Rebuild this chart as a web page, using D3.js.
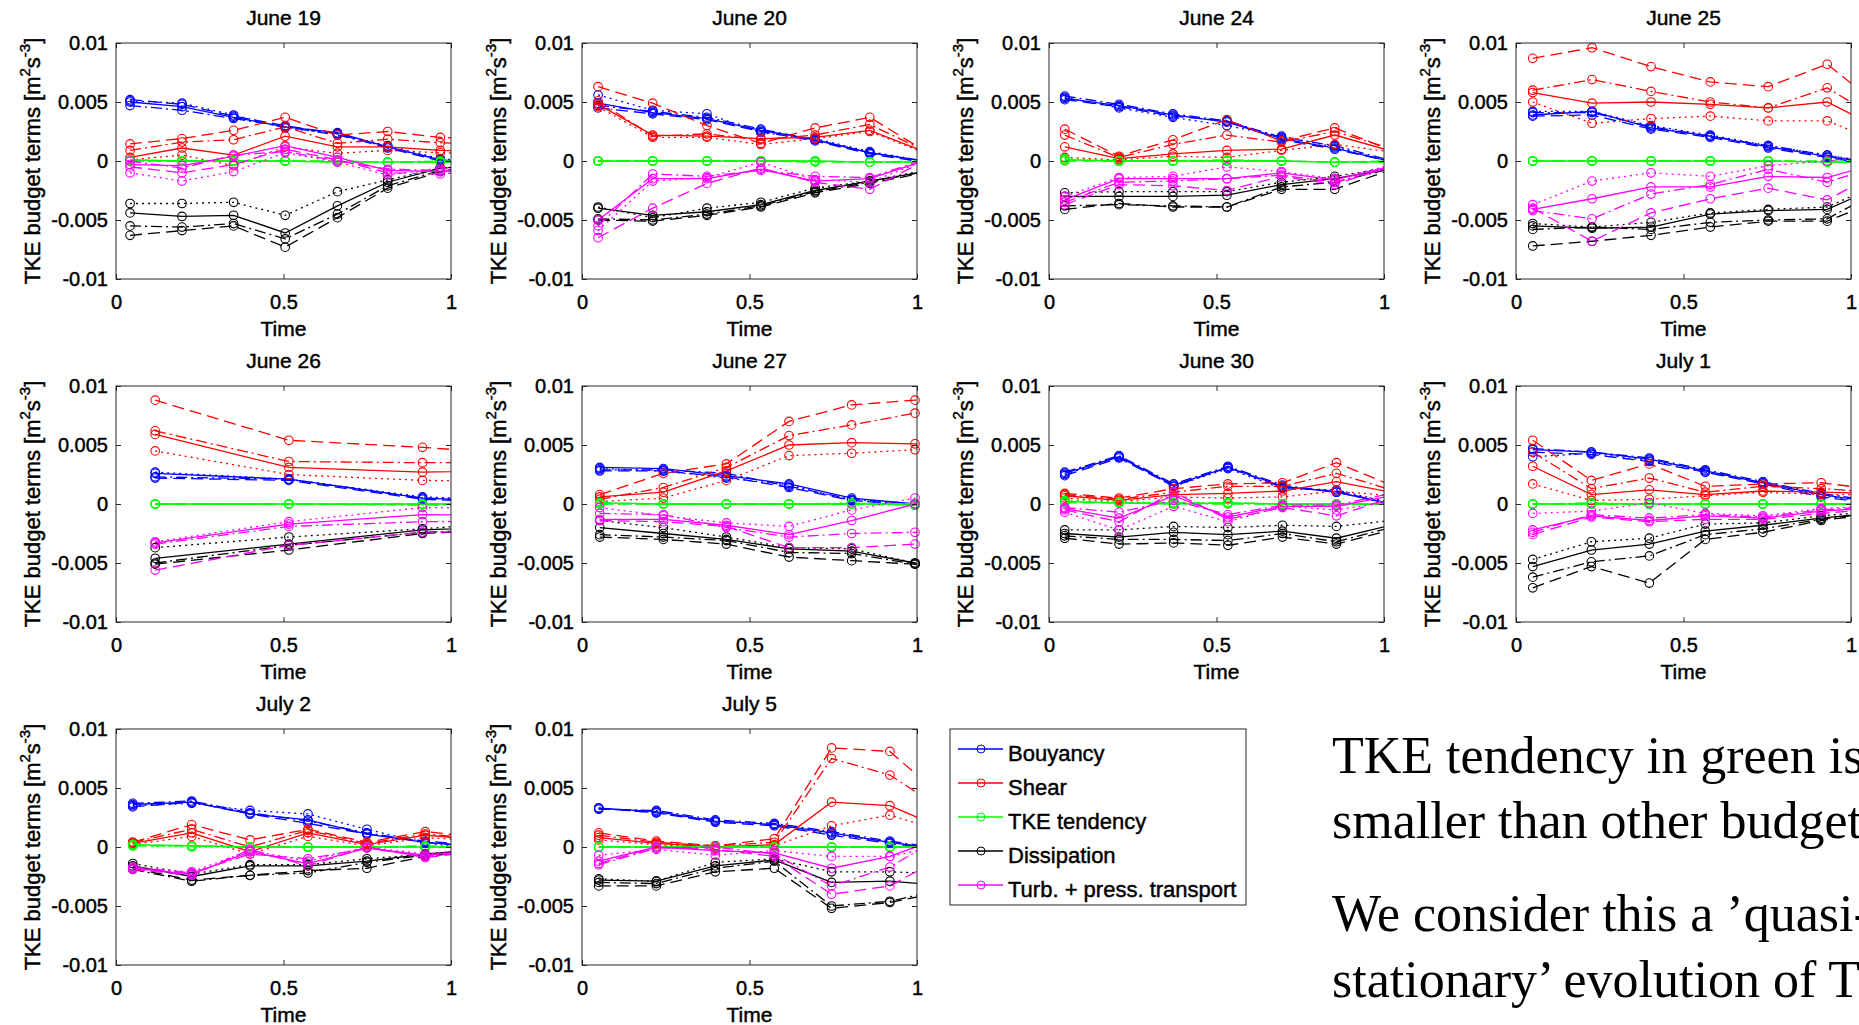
<!DOCTYPE html>
<html>
<head>
<meta charset="utf-8">
<script src="https://cdn.jsdelivr.net/npm/d3@7/dist/d3.min.js"></script>
<style>
body { margin: 0; background: #fff; }
</style>
</head>
<body>
<div id="canvas"></div>
<script>
// budget terms in 1e-3 m^2 s^-3, rows: solid, dashed, dash-dot, dotted
const jun19_t = [0.042, 0.197, 0.351, 0.505, 0.661, 0.811, 0.968, 1.122];
const jun19_buoy = [[5.0, 4.6, 3.7, 2.9, 2.4, 1.2, 0.1, -0.3], [5.2, 4.8, 3.8, 3.0, 2.3, 1.1, 0.0, -0.4], [4.7, 4.3, 3.6, 2.9, 2.2, 1.2, 0.1, -0.3], [5.1, 4.9, 3.9, 2.8, 2.3, 1.3, 0.2, -0.2]];
const jun19_shear = [[0.3, 1.1, 0.5, 2.1, 1.2, 1.2, 0.9, 0.8], [1.45, 1.9, 2.6, 3.7, 2.2, 2.5, 2.0, 1.8], [0.9, 1.6, 1.8, 2.9, 1.5, 1.85, 1.55, 1.4], [0.1, 0.5, -0.4, 1.2, 0.65, 0.9, 0.7, 0.6]];
const jun19_tend = [[0.1, 0.0, 0.0, 0.0, -0.1, -0.1, -0.1, -0.1], [0.0, 0.0, 0.0, 0.0, 0.0, -0.1, -0.1, -0.1], [0.1, 0.0, 0.0, 0.0, -0.1, -0.1, 0.0, 0.0], [0.0, 0.0, 0.0, 0.0, 0.0, -0.1, -0.1, -0.1]];
const jun19_diss = [[-4.4, -4.7, -4.6, -6.1, -3.8, -1.8, -0.6, -0.3], [-6.3, -5.9, -5.5, -7.3, -4.8, -2.3, -0.9, -0.4], [-5.5, -5.6, -5.3, -6.6, -4.5, -2.1, -0.8, -0.4], [-3.6, -3.6, -3.5, -4.6, -2.6, -1.6, -0.6, -0.3]];
const jun19_trans = [[-0.3, -0.4, 0.4, 1.3, 0.3, -0.8, -0.9, -0.7], [-0.5, -1.0, -0.3, 1.0, 0.1, -1.0, -1.1, -0.8], [0.0, -0.6, 0.5, 0.8, 0.0, -0.7, -0.8, -0.6], [-1.0, -1.7, -0.9, 0.7, -0.1, -1.2, -0.6, -0.4]];

const jun20_t = [0.048, 0.211, 0.373, 0.534, 0.696, 0.859, 1.021];
const jun20_buoy = [[4.9, 4.1, 3.6, 2.6, 1.8, 0.7, 0.0], [4.5, 4.0, 3.5, 2.5, 1.7, 0.6, -0.1], [4.7, 4.2, 3.7, 2.7, 1.8, 0.7, 0.0], [5.6, 4.3, 4.0, 2.4, 1.9, 0.8, 0.0]];
const jun20_shear = [[4.8, 2.2, 2.1, 1.9, 2.0, 2.6, 0.8], [6.3, 4.9, 3.0, 1.5, 2.8, 3.7, 0.9], [5.1, 2.1, 2.3, 1.8, 2.2, 3.1, 0.9], [4.6, 2.0, 2.0, 1.4, 1.9, 2.5, 0.7]];
const jun20_tend = [[0.0, 0.0, 0.0, 0.0, 0.0, -0.1, -0.1], [0.0, 0.0, 0.0, 0.0, -0.1, -0.1, -0.1], [0.0, 0.0, 0.0, 0.0, 0.0, -0.1, 0.0], [0.0, 0.0, 0.0, 0.0, 0.0, -0.1, -0.1]];
const jun20_diss = [[-4.0, -4.6, -4.3, -3.7, -2.5, -1.7, -0.9], [-5.0, -5.1, -4.6, -3.9, -2.7, -1.9, -1.0], [-4.9, -5.0, -4.5, -3.8, -2.6, -1.8, -0.9], [-3.9, -4.8, -4.0, -3.5, -2.3, -1.7, -0.8]];
const jun20_trans = [[-5.0, -1.5, -1.5, -0.7, -1.7, -1.5, 0.0], [-6.5, -4.0, -1.9, -0.6, -1.8, -2.4, 0.0], [-5.5, -1.1, -1.3, -0.8, -1.3, -1.4, 0.1], [-5.9, -1.7, -1.4, -0.1, -1.6, -1.8, 0.0]];

const jun24_t = [0.047, 0.209, 0.370, 0.531, 0.694, 0.853, 1.014];
const jun24_buoy = [[5.3, 4.7, 3.9, 3.3, 1.9, 1.1, 0.0], [5.2, 4.6, 3.8, 3.4, 1.8, 1.0, 0.0], [5.5, 4.8, 4.0, 3.4, 2.0, 1.3, 0.1], [5.4, 4.5, 3.7, 3.0, 2.1, 1.2, 0.0]];
const jun24_shear = [[1.2, 0.2, 0.6, 0.9, 1.0, 2.2, 0.9], [2.7, 0.4, 1.8, 3.5, 1.7, 2.8, 1.0], [2.2, 0.3, 1.4, 2.2, 1.6, 2.5, 1.1], [0.3, 0.1, 0.4, 0.3, 0.9, 1.4, 0.8]];
const jun24_tend = [[0.1, 0.0, 0.0, 0.0, 0.0, -0.1, -0.1], [0.0, 0.0, 0.0, 0.0, 0.0, -0.1, 0.0], [0.1, 0.0, 0.0, 0.1, 0.0, -0.1, -0.1], [0.2, 0.0, 0.0, 0.0, 0.0, -0.1, 0.0]];
const jun24_diss = [[-3.0, -3.0, -3.0, -2.9, -2.0, -1.5, -0.7], [-4.1, -3.6, -3.9, -3.9, -2.4, -2.4, -0.8], [-3.8, -3.7, -3.8, -3.9, -2.2, -1.8, -0.7], [-2.7, -2.6, -2.6, -2.6, -1.8, -1.3, -0.6]];
const jun24_trans = [[-3.3, -1.5, -1.5, -1.5, -1.0, -1.6, -0.5], [-3.7, -2.0, -2.1, -2.5, -1.3, -2.0, -0.5], [-3.5, -1.8, -1.7, -1.5, -1.2, -1.8, -0.6], [-3.0, -1.4, -1.3, -0.5, -0.9, -1.5, -0.4]];

const jun25_t = [0.050, 0.227, 0.403, 0.580, 0.753, 0.929, 1.105];
const jun25_buoy = [[3.9, 4.2, 2.8, 2.1, 1.2, 0.4, -0.4], [3.8, 3.9, 2.7, 2.0, 1.1, 0.3, -0.5], [4.1, 4.1, 2.9, 2.1, 1.3, 0.5, -0.4], [4.2, 4.2, 3.0, 2.2, 1.3, 0.5, -0.3]];
const jun25_shear = [[5.8, 4.9, 5.0, 4.8, 4.5, 5.0, 2.5], [8.7, 9.6, 8.0, 6.7, 6.3, 8.2, 4.2], [6.0, 6.9, 5.9, 5.0, 4.5, 6.2, 3.2], [5.0, 3.2, 3.6, 3.8, 3.4, 3.4, 1.4]];
const jun25_tend = [[0.0, 0.0, 0.0, 0.0, 0.0, -0.1, -0.1], [0.0, 0.0, 0.0, 0.0, 0.0, -0.1, -0.1], [0.0, 0.0, 0.0, 0.0, 0.0, 0.0, 0.0], [0.0, 0.0, 0.0, 0.0, 0.0, -0.1, -0.1]];
const jun25_diss = [[-5.5, -5.7, -5.6, -4.5, -4.2, -4.1, -1.9], [-7.2, -6.8, -6.3, -5.6, -5.1, -5.1, -3.1], [-5.8, -5.6, -5.8, -5.2, -5.0, -4.9, -2.2], [-5.3, -5.6, -5.2, -4.4, -4.1, -3.9, -1.7]];
const jun25_trans = [[-4.1, -3.2, -2.2, -2.2, -1.3, -1.4, 0.0], [-4.0, -6.8, -4.4, -3.2, -2.3, -3.3, -0.6], [-4.2, -4.9, -2.8, -2.0, -0.7, -1.8, -0.2], [-3.7, -1.7, -1.0, -1.3, -0.4, 0.0, 0.5]];

const jun26_t = [0.117, 0.516, 0.915, 1.315];
const jun26_buoy = [[2.6, 2.1, 0.5, 0.1], [2.2, 2.0, 0.4, 0.0], [2.3, 2.1, 0.5, 0.1], [2.7, 2.1, 0.6, 0.2]];
const jun26_shear = [[5.9, 3.1, 2.7, 2.9], [8.8, 5.4, 4.8, 4.0], [6.2, 3.6, 3.5, 3.5], [4.5, 2.5, 2.0, 1.9]];
const jun26_tend = [[0.0, 0.0, 0.0, 0.0], [0.0, 0.0, 0.0, 0.0], [0.0, 0.0, -0.1, 0.0], [0.0, 0.0, 0.0, 0.0]];
const jun26_diss = [[-4.6, -3.4, -2.2, -1.8], [-5.1, -3.9, -2.5, -2.0], [-5.0, -3.5, -2.4, -2.0], [-3.7, -2.8, -2.1, -1.3]];
const jun26_trans = [[-3.3, -1.7, -0.9, -1.0], [-5.6, -3.5, -2.4, -2.2], [-3.4, -1.9, -1.5, -1.5], [-3.2, -1.5, -0.3, -0.4]];

const jun27_t = [0.053, 0.243, 0.431, 0.618, 0.805, 0.994, 1.182];
const jun27_buoy = [[3.1, 3.0, 2.4, 1.7, 0.5, 0.0, -0.3], [2.8, 2.8, 2.3, 1.4, 0.3, -0.1, -0.3], [2.9, 2.9, 2.6, 1.5, 0.4, 0.0, -0.3], [3.0, 2.8, 2.2, 1.6, 0.3, 0.0, -0.2]];
const jun27_shear = [[0.6, 1.0, 2.8, 5.0, 5.2, 5.1, 5.1], [0.8, 2.6, 3.4, 7.0, 8.4, 8.8, 9.1], [0.4, 1.4, 3.1, 5.8, 6.7, 7.7, 8.7], [0.2, 0.5, 2.0, 4.1, 4.3, 4.6, 4.9]];
const jun27_tend = [[0.1, 0.0, 0.0, 0.0, 0.0, 0.0, 0.0], [0.0, 0.0, 0.0, 0.0, 0.0, 0.0, 0.0], [0.1, 0.0, 0.0, 0.0, 0.0, -0.1, 0.0], [0.0, 0.0, 0.0, 0.0, 0.1, 0.0, 0.0]];
const jun27_diss = [[-2.0, -2.5, -3.0, -3.8, -4.0, -5.0, -6.0], [-2.8, -3.0, -3.4, -4.5, -4.8, -5.1, -5.5], [-2.6, -2.8, -3.1, -4.1, -4.2, -5.1, -6.0], [-1.4, -2.0, -2.8, -3.7, -3.8, -5.0, -5.9]];
const jun27_trans = [[-1.3, -1.3, -1.8, -2.6, -1.4, 0.0, 1.0], [-1.4, -1.5, -1.9, -3.7, -3.7, -3.4, -3.3], [-0.8, -0.9, -2.0, -2.8, -2.5, -2.4, -2.3], [-0.3, -1.0, -1.6, -1.9, -0.5, 0.5, 1.2]];

const jun30_t = [0.047, 0.209, 0.372, 0.534, 0.697, 0.858, 1.021];
const jun30_buoy = [[2.6, 4.0, 1.6, 3.1, 1.5, 1.0, 0.0], [2.4, 3.9, 1.5, 3.1, 1.4, 1.1, 0.0], [2.7, 4.1, 1.7, 3.2, 1.6, 1.0, 0.0], [2.5, 4.0, 1.5, 3.0, 1.3, 1.2, 0.1]];
const jun30_shear = [[0.7, 0.3, 0.8, 0.9, 1.1, 1.9, 1.0], [0.9, 0.5, 1.3, 1.7, 1.8, 3.5, 1.6], [0.8, 0.4, 1.0, 1.5, 1.5, 2.6, 1.2], [0.5, 0.2, 0.6, 0.5, 0.6, 1.1, 0.7]];
const jun30_tend = [[0.2, 0.1, 0.0, 0.1, 0.0, 0.0, 0.0], [0.1, 0.1, 0.1, 0.1, 0.0, 0.0, 0.0], [0.2, 0.1, 0.0, 0.0, 0.0, -0.1, 0.0], [0.3, 0.2, 0.1, 0.1, 0.0, 0.0, 0.0]];
const jun30_diss = [[-2.5, -2.8, -2.4, -2.6, -2.3, -2.9, -1.8], [-2.9, -3.4, -3.3, -3.5, -2.8, -3.4, -2.2], [-2.7, -3.0, -3.0, -3.1, -2.5, -3.2, -2.0], [-2.2, -2.2, -1.9, -2.0, -1.8, -1.9, -1.4]];
const jun30_trans = [[-0.4, -1.2, 0.7, -1.1, -0.2, -0.2, 0.7], [-0.5, -1.5, 1.0, -1.3, -0.3, -1.0, 0.5], [-0.3, -0.7, 0.3, -0.9, -0.1, -0.1, 0.9], [-0.7, -2.2, -0.2, -1.5, -0.2, -0.5, 0.2]];

const jul01_t = [0.050, 0.225, 0.398, 0.565, 0.737, 0.911, 1.083];
const jul01_buoy = [[4.6, 4.4, 3.8, 2.8, 1.8, 0.8, 0.1], [4.4, 4.2, 3.6, 2.7, 1.7, 0.6, 0.0], [4.7, 4.4, 3.9, 2.9, 1.9, 0.9, 0.2], [4.0, 4.3, 3.7, 2.7, 1.8, 0.7, 0.1]];
const jul01_shear = [[3.2, 0.8, 1.2, 0.8, 1.1, 1.0, 0.9], [5.4, 2.0, 3.4, 1.5, 1.7, 1.8, 1.2], [4.4, 1.3, 2.2, 1.0, 1.5, 1.3, 1.0], [1.7, 0.3, 0.4, 0.7, 1.0, 0.8, 0.8]];
const jul01_tend = [[0.0, 0.0, 0.0, 0.0, 0.0, 0.0, 0.0], [0.0, 0.0, 0.0, 0.0, 0.0, 0.0, 0.0], [0.0, 0.1, 0.0, 0.0, 0.0, 0.0, 0.0], [0.0, 0.0, 0.0, 0.0, 0.0, 0.0, 0.0]];
const jul01_diss = [[-5.3, -3.9, -3.4, -2.3, -1.8, -1.2, -0.7], [-7.1, -5.3, -6.7, -3.0, -2.4, -1.4, -0.8], [-6.2, -4.9, -4.4, -2.6, -2.1, -1.3, -0.7], [-4.7, -3.2, -2.9, -1.7, -1.6, -1.0, -0.6]];
const jul01_trans = [[-2.2, -1.0, -1.4, -1.0, -1.2, -0.6, -0.3], [-2.6, -1.1, -1.5, -1.3, -1.3, -0.8, -0.4], [-2.4, -0.9, -1.2, -0.9, -1.1, -0.5, -0.2], [-0.8, -0.6, 0.1, -0.8, -1.0, -0.4, -0.1]];

const jul02_t = [0.050, 0.226, 0.400, 0.573, 0.749, 0.923, 1.098];
const jul02_buoy = [[3.6, 3.8, 2.8, 2.3, 1.1, 0.4, 0.0], [3.4, 3.8, 2.8, 2.0, 1.1, 0.5, 0.1], [3.7, 3.9, 2.9, 2.2, 1.2, 0.4, 0.0], [3.5, 3.7, 3.1, 2.8, 1.5, 0.3, -0.1]];
const jul02_shear = [[0.3, 1.2, -0.4, 1.2, 0.2, 1.0, 0.6], [0.4, 1.9, 0.6, 1.5, 0.4, 1.3, 0.8], [0.4, 1.5, 0.0, 1.4, 0.3, 1.1, 0.7], [0.2, 0.9, -0.6, 0.9, 0.1, 0.8, 0.5]];
const jul02_tend = [[0.2, 0.1, 0.0, 0.0, 0.0, 0.0, 0.0], [0.1, 0.1, 0.0, 0.0, 0.0, 0.0, 0.0], [0.2, 0.1, 0.0, 0.0, 0.0, 0.1, 0.0], [0.1, 0.0, 0.0, 0.0, 0.0, 0.0, 0.0]];
const jul02_diss = [[-1.6, -2.5, -1.6, -1.6, -1.2, -0.6, -0.2], [-1.8, -2.8, -2.4, -2.0, -1.8, -0.8, -0.3], [-1.9, -2.9, -2.4, -2.2, -1.3, -0.7, -0.3], [-1.4, -2.3, -1.5, -1.5, -1.0, -0.6, -0.2]];
const jul02_trans = [[-1.8, -2.3, -0.4, -1.4, -0.1, -0.7, -0.2], [-1.9, -2.4, -0.2, -1.6, 0.0, -0.9, -0.3], [-1.7, -2.2, -0.6, -1.0, -0.1, -0.8, -0.2], [-1.8, -2.1, -0.3, -1.2, 0.0, -0.6, -0.1]];

const jul05_t = [0.050, 0.222, 0.398, 0.574, 0.745, 0.919, 1.093];
const jul05_buoy = [[3.3, 3.0, 2.2, 1.9, 1.2, 0.4, -0.3], [3.3, 2.9, 2.1, 1.8, 1.0, 0.3, -0.3], [3.2, 3.1, 2.3, 2.0, 1.3, 0.5, -0.2], [3.3, 2.9, 2.2, 1.9, 1.1, 0.4, -0.3]];
const jul05_shear = [[0.8, 0.3, 0.0, 0.2, 3.8, 3.5, 1.4], [1.2, 0.5, 0.1, 0.7, 8.4, 8.1, 3.8], [1.0, 0.4, 0.1, 0.4, 7.5, 6.1, 2.9], [0.6, 0.2, -0.1, 0.1, 1.8, 2.7, 1.2]];
const jul05_tend = [[0.0, 0.0, 0.0, 0.0, 0.0, 0.0, 0.0], [0.0, 0.0, 0.0, 0.0, 0.0, 0.0, 0.0], [0.0, 0.0, 0.0, 0.0, 0.0, 0.0, 0.0], [0.0, 0.0, 0.0, 0.0, 0.0, 0.0, 0.0]];
const jul05_diss = [[-2.8, -2.9, -1.6, -1.1, -3.0, -2.9, -3.3], [-3.3, -3.3, -2.1, -1.8, -5.2, -4.7, -3.7], [-3.0, -3.1, -1.8, -1.2, -5.0, -4.6, -3.5], [-2.7, -2.9, -1.3, -1.0, -2.1, -2.1, -2.3]];
const jul05_trans = [[-1.2, 0.0, -0.3, -0.5, -1.8, -0.8, 1.0], [-1.4, 0.0, -0.2, -0.8, -4.0, -3.3, -0.6], [-1.5, -0.1, 0.0, -0.6, -3.3, -1.7, 1.2], [-0.7, -0.2, -0.7, -0.3, -0.8, -0.8, 0.2]];

const titles = ["June 19", "June 20", "June 24", "June 25", "June 26", "June 27", "June 30", "July 1", "July 2", "July 5"];
const termNames = ["Bouyancy", "Shear", "TKE tendency", "Dissipation", "Turb. + press. transport"];
const xTicks = [0, 0.5, 1];
const xTickLabels = ["0", "0.5", "1"];
const yTicks = [-10, -5, 0, 5, 10];
const yTickLabels = ["-0.01", "-0.005", "0", "0.005", "0.01"];
const noteLines = ["TKE tendency in green is", "smaller than other budget", "We consider this a \u2019quasi-", "stationary\u2019 evolution of T"];

const panels = [
    { t: jun19_t, terms: [jun19_buoy, jun19_shear, jun19_tend, jun19_diss, jun19_trans] },
    { t: jun20_t, terms: [jun20_buoy, jun20_shear, jun20_tend, jun20_diss, jun20_trans] },
    { t: jun24_t, terms: [jun24_buoy, jun24_shear, jun24_tend, jun24_diss, jun24_trans] },
    { t: jun25_t, terms: [jun25_buoy, jun25_shear, jun25_tend, jun25_diss, jun25_trans] },
    { t: jun26_t, terms: [jun26_buoy, jun26_shear, jun26_tend, jun26_diss, jun26_trans] },
    { t: jun27_t, terms: [jun27_buoy, jun27_shear, jun27_tend, jun27_diss, jun27_trans] },
    { t: jun30_t, terms: [jun30_buoy, jun30_shear, jun30_tend, jun30_diss, jun30_trans] },
    { t: jul01_t, terms: [jul01_buoy, jul01_shear, jul01_tend, jul01_diss, jul01_trans] },
    { t: jul02_t, terms: [jul02_buoy, jul02_shear, jul02_tend, jul02_diss, jul02_trans] },
    { t: jul05_t, terms: [jul05_buoy, jul05_shear, jul05_tend, jul05_diss, jul05_trans] }
];

const colors = ["#0000ff", "#ff0000", "#00ff00", "#000000", "#ff00ff"];
const dashes = [null, "12,6", "11,4,2,4", "2,4"];
const font = "'Liberation Sans', Arial, Helvetica, sans-serif";
const axisColor = "#262626";

const width = 1859;
const height = 1025;
const colX = [116, 582, 1049, 1516];
const rowY = [43, 386, 729];
const pw = 335;
const ph = 236;

const svg = d3.select("#canvas").append("svg")
    .attr("width", width)
    .attr("height", height)
    .style("display", "block");

svg.append("rect").attr("width", width).attr("height", height).attr("fill", "#fff");

const x = d3.scaleLinear().domain([0, 1]).range([0, pw]);
const y = d3.scaleLinear().domain([-10, 10]).range([ph, 0]);

// heavier look of the sans labels
const label = sel => sel
    .attr("font-family", font)
    .attr("fill", "#000")
    .attr("stroke", "#000")
    .attr("stroke-width", 0.45);

panels.forEach((p, i) => {
    const g = svg.append("g")
        .attr("transform", `translate(${colX[i % 4]},${rowY[Math.floor(i / 4)]})`);

    g.append("clipPath").attr("id", "clip" + i)
        .append("rect").attr("width", pw).attr("height", ph);

    const plot = g.append("g").attr("clip-path", `url(#clip${i})`);

    const line = d3.line()
        .x((d, j) => x(p.t[j]))
        .y(d => y(d));

    p.terms.forEach((term, k) => {
        term.forEach((vals, s) => {
            plot.append("path")
                .datum(vals)
                .attr("d", line)
                .attr("fill", "none")
                .attr("stroke", colors[k])
                .attr("stroke-width", 1.3)
                .attr("stroke-dasharray", dashes[s]);

            const pts = vals.map((v, j) => [p.t[j], v]).filter(d => d[0] <= 1);
            g.append("g").selectAll("circle").data(pts)
                .enter().append("circle")
                .attr("cx", d => x(d[0]))
                .attr("cy", d => y(d[1]))
                .attr("r", 4.3)
                .attr("fill", "none")
                .attr("stroke", colors[k])
                .attr("stroke-width", 1.1);
        });
    });

    const ax = [
        g.append("g").attr("transform", `translate(0,${ph})`)
            .call(d3.axisBottom(x).tickValues(xTicks).tickFormat((d, j) => xTickLabels[j]).tickSizeInner(-5).tickSizeOuter(0).tickPadding(16)),
        g.append("g")
            .call(d3.axisTop(x).tickValues(xTicks).tickFormat("").tickSizeInner(-5).tickSizeOuter(0)),
        g.append("g")
            .call(d3.axisLeft(y).tickValues(yTicks).tickFormat((d, j) => yTickLabels[j]).tickSizeInner(-5).tickSizeOuter(0).tickPadding(8)),
        g.append("g").attr("transform", `translate(${pw},0)`)
            .call(d3.axisRight(y).tickValues(yTicks).tickFormat("").tickSizeInner(-5).tickSizeOuter(0))
    ];
    ax.forEach(a => {
        a.select(".domain").remove();
        a.selectAll("line").attr("stroke", axisColor);
        a.selectAll("text").call(label).attr("font-size", 20);
    });

    g.append("rect")
        .attr("width", pw)
        .attr("height", ph)
        .attr("fill", "none")
        .attr("stroke", axisColor)
        .attr("stroke-width", 1);

    g.append("text")
        .attr("x", pw / 2)
        .attr("y", -18)
        .attr("text-anchor", "middle")
        .call(label)
        .attr("font-size", 21)
        .text(titles[i]);

    g.append("text")
        .attr("x", pw / 2)
        .attr("y", ph + 57)
        .attr("text-anchor", "middle")
        .call(label)
        .attr("font-size", 21)
        .text("Time");

    const yl = g.append("text")
        .attr("transform", `translate(-84,${ph / 2}) rotate(-90)`)
        .attr("text-anchor", "middle")
        .attr("dominant-baseline", "central")
        .call(label)
        .attr("font-size", 22);
    yl.append("tspan").text("TKE budget terms [m");
    yl.append("tspan").attr("dy", -8).attr("font-size", 15).text("2");
    yl.append("tspan").attr("dy", 8).text("s");
    yl.append("tspan").attr("dy", -8).attr("font-size", 15).text("-3");
    yl.append("tspan").attr("dy", 8).text("]");
});

// legend
const leg = svg.append("g").attr("transform", "translate(950,729)");
leg.append("rect")
    .attr("width", 296)
    .attr("height", 176)
    .attr("fill", "#fff")
    .attr("stroke", axisColor);

const items = leg.selectAll(".item").data(termNames)
    .enter().append("g")
    .attr("class", "item")
    .attr("transform", (d, i) => `translate(0,${20 + i * 34})`);

items.append("line")
    .attr("x1", 8).attr("x2", 53)
    .attr("stroke", (d, i) => colors[i])
    .attr("stroke-width", 1.3);

items.append("circle")
    .attr("cx", 31)
    .attr("r", 4)
    .attr("fill", "none")
    .attr("stroke", (d, i) => colors[i]);

items.append("text")
    .attr("x", 58)
    .attr("y", 12)
    .call(label)
    .attr("font-size", 22)
    .text(d => d);

// note on the right
const baselines = [773, 838, 931, 997];
svg.selectAll(".note").data(noteLines)
    .enter().append("text")
    .attr("class", "note")
    .attr("x", 1332)
    .attr("y", (d, i) => baselines[i])
    .attr("font-family", "'Liberation Serif', 'Times New Roman', serif")
    .attr("font-size", 52)
    .text(d => d);
</script>
</body>
</html>
